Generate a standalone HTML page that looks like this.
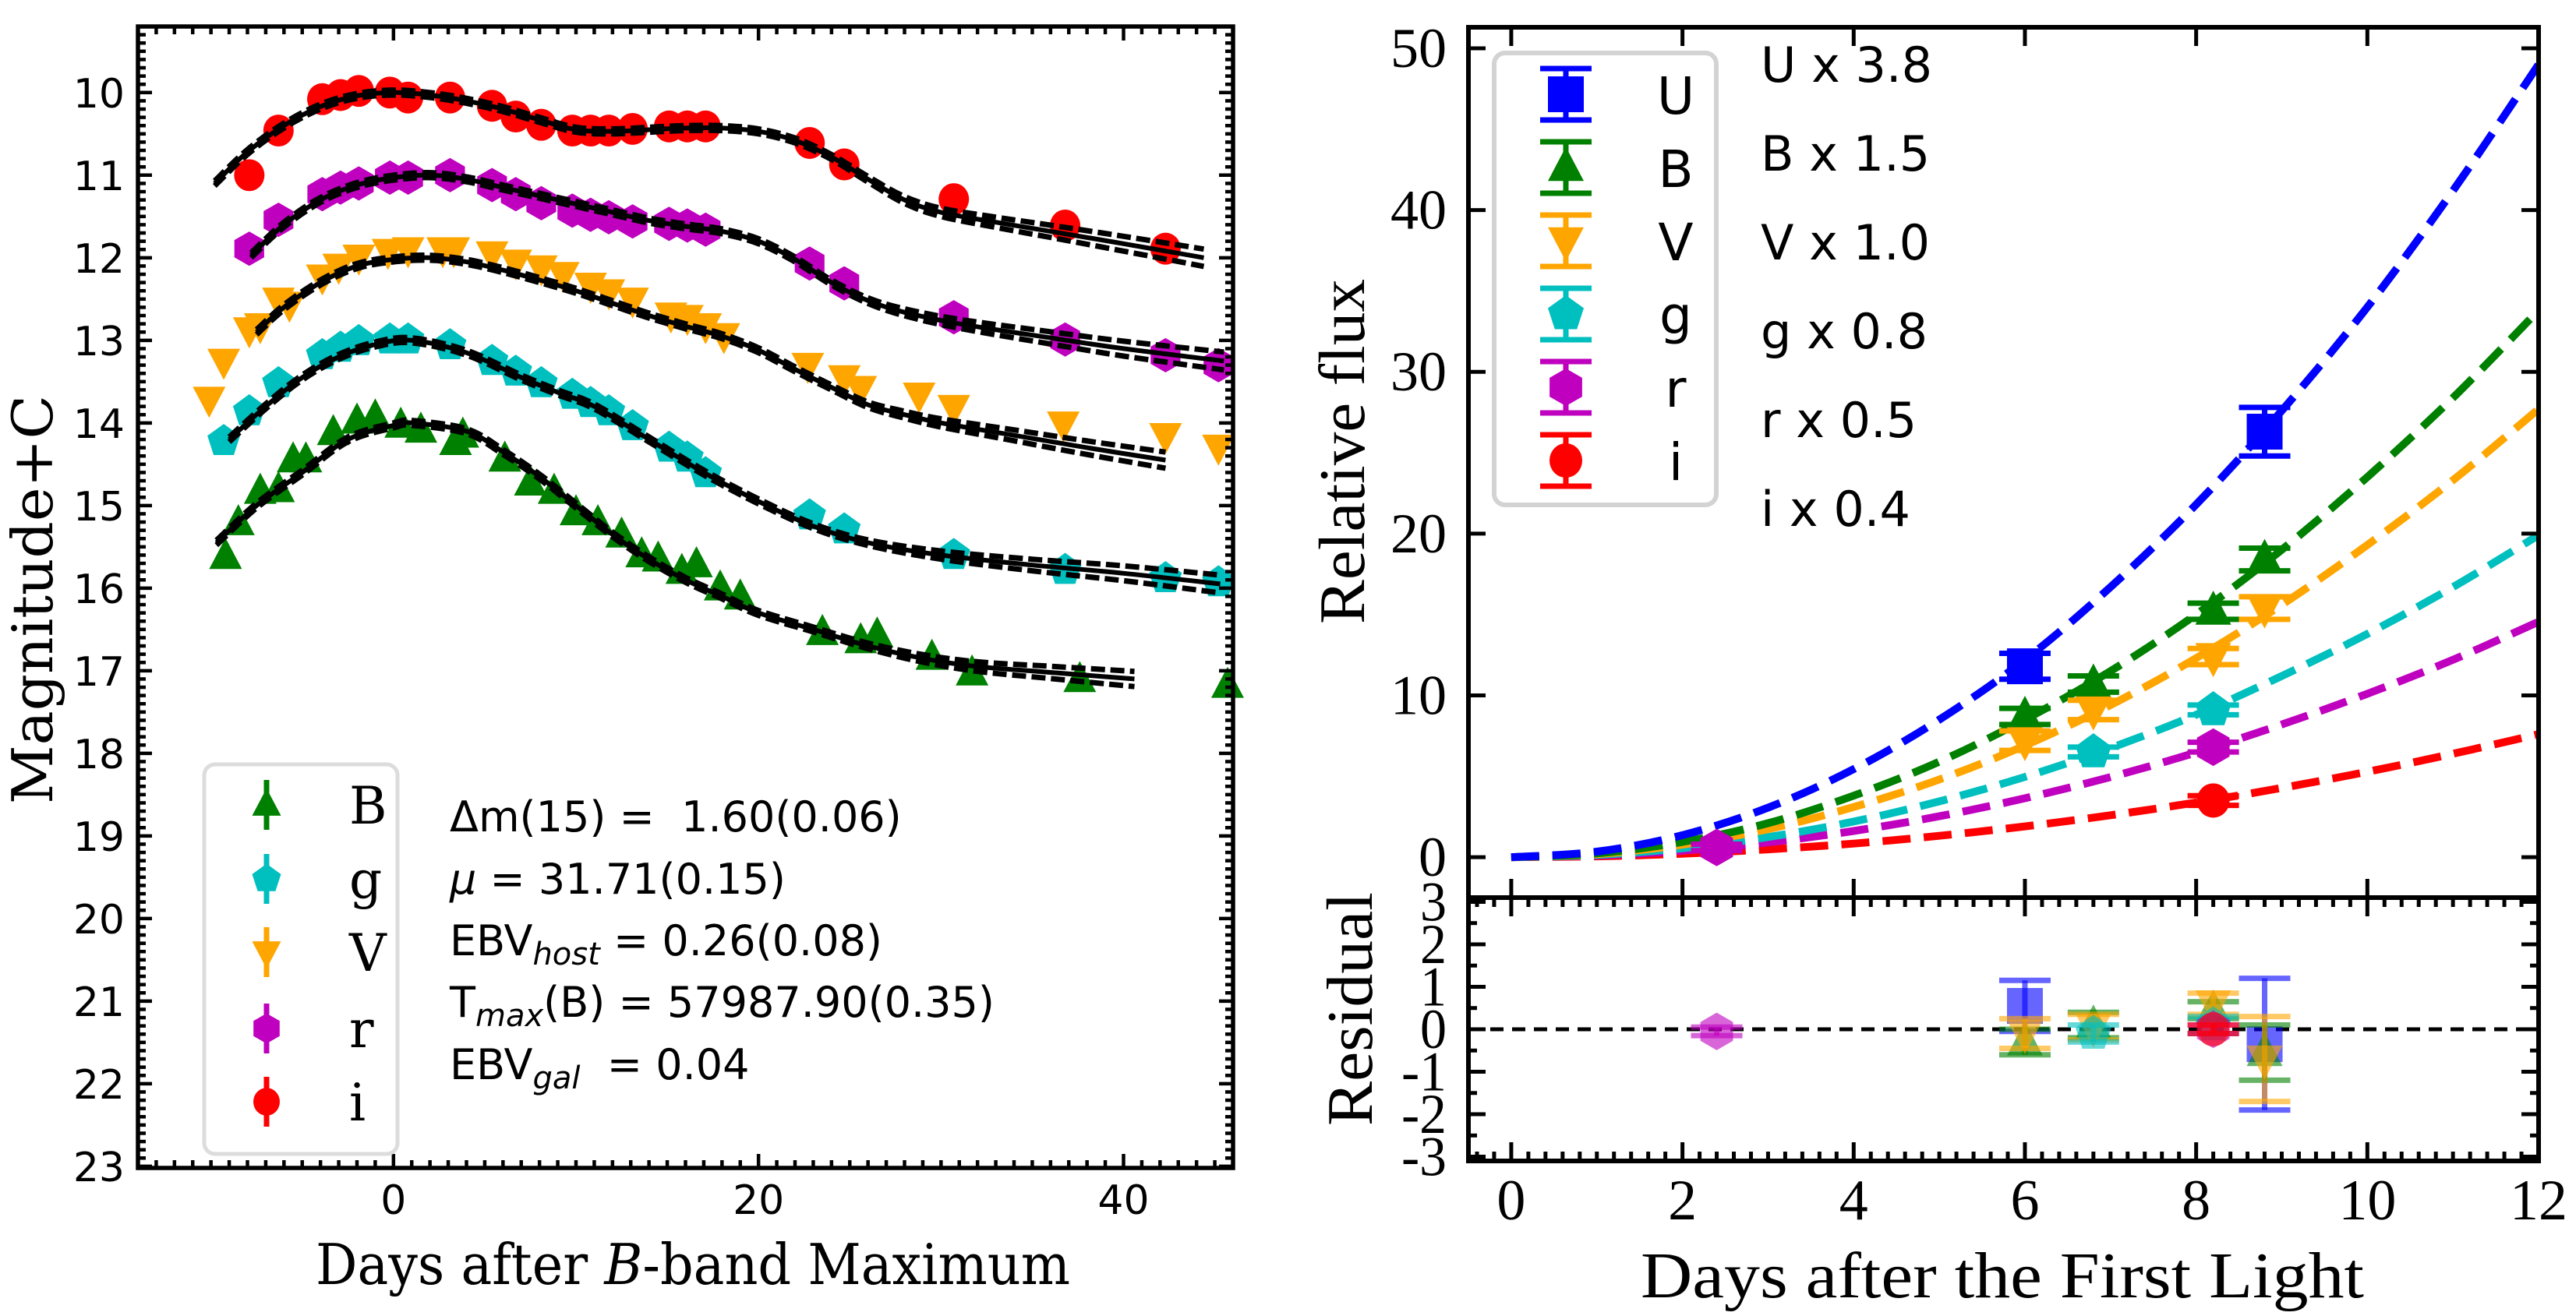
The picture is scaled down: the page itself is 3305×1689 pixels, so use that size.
<!DOCTYPE html>
<html><head><meta charset="utf-8"><style>
html,body{margin:0;padding:0;background:#fff;}
svg{display:block;}
</style></head><body>
<svg id="fig" xmlns="http://www.w3.org/2000/svg" width="3305" height="1689" viewBox="0 0 3305 1689">
<rect x="0" y="0" width="3305" height="1689" fill="#fff"/>
<g id="left"></g>
<g id="right"></g>
<g id="resid"></g>
</svg>
<script>
// ---------- LEFT PANEL DATA ----------
const iDays=[-7.9,-6.3,-3.9,-2.9,-1.9,-0.2,0.8,3.1,5.4,6.7,8.1,9.8,10.8,11.8,13.1,15.1,16.1,17.1,22.8,24.7,30.7,36.8,42.3];
const iMags=[11.0,10.46,10.08,10.03,9.98,10.0,10.06,10.06,10.16,10.29,10.39,10.46,10.46,10.46,10.44,10.41,10.41,10.41,10.61,10.87,11.29,11.61,11.89];
const rDays=[-7.9,-6.3,-3.9,-2.9,-1.9,-0.2,0.8,3.1,5.4,6.7,8.1,9.8,10.8,11.8,13.1,15.1,16.1,17.1,22.8,24.7,30.7,36.8,42.3,45.2];
const rMags=[11.89,11.54,11.23,11.15,11.1,11.03,11.03,11.0,11.12,11.23,11.34,11.43,11.48,11.51,11.56,11.59,11.61,11.66,12.07,12.31,12.72,12.99,13.18,13.3];
const vDays=[-10.1,-9.3,-7.9,-7.3,-6.3,-5.7,-3.9,-3.0,-1.9,-0.3,0.8,2.7,3.3,5.4,6.7,8.1,9.3,10.8,11.8,13.1,15.2,16.1,17.1,18.1,22.7,24.7,25.6,28.8,30.7,36.7,42.3,45.2];
const vMags=[13.71,13.25,12.87,12.82,12.51,12.56,12.23,12.1,11.99,11.92,11.9,11.9,11.9,11.95,12.05,12.12,12.2,12.33,12.41,12.51,12.69,12.72,12.82,12.94,13.3,13.45,13.58,13.66,13.81,14.01,14.15,14.29];
const gDays=[-9.3,-7.9,-6.3,-3.9,-2.9,-1.9,-0.2,0.8,3.1,5.4,6.7,8.1,9.8,10.8,11.8,13.1,15.1,16.1,17.1,22.8,24.7,30.7,36.8,42.3,45.2];
const gMags=[14.22,13.86,13.52,13.18,13.09,13.01,12.99,12.99,13.06,13.25,13.38,13.52,13.66,13.76,13.86,14.04,14.3,14.42,14.61,15.12,15.29,15.6,15.78,15.88,15.93];
const bDays=[-9.2,-8.5,-7.3,-6.3,-5.5,-4.8,-3.3,-2.0,-1.0,0.4,1.5,3.4,3.8,6.1,7.5,8.8,10.0,11.2,12.5,13.6,14.5,15.8,16.6,17.9,19.0,23.5,25.6,26.5,29.5,31.7,37.6,45.7];
const bMags=[15.62,15.21,14.83,14.81,14.45,14.45,14.12,13.98,13.93,14.03,14.09,14.24,14.15,14.44,14.73,14.83,15.09,15.21,15.36,15.6,15.65,15.8,15.72,16.0,16.11,16.54,16.64,16.57,16.84,17.03,17.11,17.18];
// model fit knots
const iModelDays=[-9.8,-8,-6,-4,-2,0,2,4,6,8,10,12,14,16,18,20,22,24,26,28,30,33,36,40,44.4];
const iModelMags=[11.1,10.72,10.4,10.17,10.04,10.0,10.03,10.1,10.2,10.33,10.45,10.47,10.45,10.43,10.43,10.47,10.58,10.78,11.05,11.3,11.45,11.57,11.68,11.83,12.0];
const rModelDays=[-7.8,-6,-4,-2,0,2,4,6,8,10,12,14,16,18,20,22,24,26,28,31,36,40,45.5];
const rModelMags=[11.97,11.6,11.3,11.12,11.03,11.0,11.05,11.15,11.25,11.35,11.45,11.55,11.62,11.68,11.8,12.02,12.3,12.52,12.66,12.8,12.97,13.1,13.25];
const vModelDays=[-7.5,-6,-4,-2,0,2,4,6,8,10,12,14,16,18,20,22,24,26,28,30,34,38,42.3];
const vModelMags=[12.9,12.6,12.3,12.1,12.02,12.0,12.05,12.15,12.27,12.4,12.55,12.7,12.83,12.95,13.12,13.35,13.57,13.78,13.9,14.0,14.15,14.3,14.45];
const gModelDays=[-9.0,-7,-5,-3,-1,1,4,7,9,11,14,17,20,23,26,30,35,40,45.3];
const gModelMags=[14.2,13.8,13.45,13.2,13.05,13.0,13.15,13.45,13.63,13.8,14.2,14.6,14.95,15.25,15.45,15.6,15.72,15.82,15.95];
const bModelDays=[-9.7,-7.5,-5,-2.5,0,1,4,6,8,10,12,14,16,18,20,23,26,29,32,36,40.6];
const bModelMags=[15.45,15.0,14.6,14.2,14.03,14.0,14.1,14.35,14.65,15.0,15.35,15.65,15.9,16.1,16.3,16.5,16.7,16.85,16.95,17.02,17.1];
const envelopeDays=[-12,25,30,35,40,46];
const envelopeHalf=[0.03,0.03,0.05,0.07,0.09,0.11];
const leftXTicks=[0,20,40];
const leftYTicks=[10,11,12,13,14,15,16,17,18,19,20,21,22,23];

// ---------- RIGHT PANEL DATA ----------
const fitT=[0,1,2,3,4,5,6,7,8,9,10,11,12];
const fitU=[0,0.34,1.36,3.06,5.44,8.5,12.2,16.7,21.8,27.6,34,41.2,49];
const fitB=[0,0.23,0.94,2.1,3.8,5.9,8.5,11.5,15,19,23.5,28.4,33.8];
const fitV=[0,0.19,0.77,1.73,3.1,4.8,6.9,9.4,12.3,15.6,19.3,23.3,27.7];
const fitG=[0,0.14,0.55,1.24,2.2,3.45,4.96,6.75,8.8,11.2,13.8,16.7,19.9];
const fitR=[0,0.1,0.4,0.91,1.62,2.53,3.64,4.95,6.47,8.2,10.1,12.2,14.55];
const fitI=[0,0.05,0.21,0.48,0.84,1.32,1.9,2.59,3.38,4.28,5.28,6.39,7.6];
const uT=[6.0,8.8], uF=[11.8,26.3], uE=[0.8,1.5], uRes=[0.55,-0.35], uResE=[0.6,1.55];
const bT=[6.0,6.8,8.2,8.8], bF=[8.7,10.7,15.2,18.4], bE=[0.5,0.5,0.5,0.7], bRes=[-0.3,0.1,0.45,-0.55], bResE=[0.3,0.3,0.2,0.65];
const vT=[6.0,6.8,8.2,8.8], vF=[7.2,9.1,12.4,15.4], vE=[0.6,0.6,0.5,0.7], vRes=[-0.1,0.05,0.6,-0.7], vResE=[0.35,0.3,0.25,1.0];
const gT=[6.8,8.2], gF=[6.5,9.1], gE=[0.3,0.3], gRes=[-0.1,0.1], gResE=[0.2,0.2];
const rT=[2.4,8.2], rF=[0.6,6.8], rE=[0.2,0.3], rRes=[-0.05,0.0], rResE=[0.1,0.1];
const iT=[8.2], iF=[3.5], iE=[0.3], iRes=[0.0], iResE=[0.1];
const rightXTicks=[0,2,4,6,8,10,12];
const rightYTicks=[0,10,20,30,40,50];
const residTicks=[-3,-2,-1,0,1,2,3];

const NS='http://www.w3.org/2000/svg';
function mk(tag,attrs,parent){const e=document.createElementNS(NS,tag);for(const k in attrs)e.setAttribute(k,attrs[k]);parent.appendChild(e);return e;}
const COL={U:'#0000ff',B:'#008000',V:'#ffa500',g:'#00bfbf',r:'#bf00bf',i:'#ff0000'};

function markerPath(shape,x,y,s){
  const h=s/2;
  if(shape==='s')return `M${x-h},${y-h}H${x+h}V${y+h}H${x-h}Z`;
  if(shape==='^')return `M${x},${y-h*1.15}L${x+h},${y+h*0.75}L${x-h},${y+h*0.75}Z`;
  if(shape==='v')return `M${x},${y+h*1.15}L${x+h},${y-h*0.75}L${x-h},${y-h*0.75}Z`;
  let n=shape==='p'?5:6,pts=[];
  for(let k=0;k<n;k++){const a=-Math.PI/2+k*2*Math.PI/n;pts.push((x+h*1.05*Math.cos(a)).toFixed(1)+','+(y+h*1.05*Math.sin(a)).toFixed(1));}
  return 'M'+pts.join('L')+'Z';
}
function drawMarker(parent,shape,x,y,s,color,opacity){
  if(shape==='o'){return mk('ellipse',{cx:x,cy:y,rx:s/2,ry:s/2*1.05,fill:color,'fill-opacity':opacity},parent);}
  return mk('path',{d:markerPath(shape,x,y,s),fill:color,'fill-opacity':opacity},parent);
}
function smoothPath(pts){
  let d=`M${pts[0][0].toFixed(1)},${pts[0][1].toFixed(1)}`;
  for(let k=0;k<pts.length-1;k++){
    const p0=pts[Math.max(0,k-1)],p1=pts[k],p2=pts[k+1],p3=pts[Math.min(pts.length-1,k+2)];
    const c1=[p1[0]+(p2[0]-p0[0])/6,p1[1]+(p2[1]-p0[1])/6],c2=[p2[0]-(p3[0]-p1[0])/6,p2[1]-(p3[1]-p1[1])/6];
    d+=`C${c1[0].toFixed(1)},${c1[1].toFixed(1)} ${c2[0].toFixed(1)},${c2[1].toFixed(1)} ${p2[0].toFixed(1)},${p2[1].toFixed(1)}`;
  }
  return d;
}
function interp(xs,ys,x){if(x<=xs[0])return ys[0];for(let k=0;k<xs.length-1;k++){if(x<=xs[k+1]){const t=(x-xs[k])/(xs[k+1]-xs[k]);return ys[k]+t*(ys[k+1]-ys[k]);}}return ys[ys.length-1];}

// ================= LEFT PANEL =================
const L=document.getElementById('left');
const LX0=177,LX1=1582,LY0=34,LY1=1499;
const lxMin=-14,lxMax=46,lyTop=9.2,lyBot=23.02;
const lx=d=>LX0+(d-lxMin)/(lxMax-lxMin)*(LX1-LX0);
const ly=m=>LY0+(m-lyTop)/(lyBot-lyTop)*(LY1-LY0);

const fits=[[iModelDays,iModelMags,'i'],[rModelDays,rModelMags,'r'],[vModelDays,vModelMags,'V'],[gModelDays,gModelMags,'g'],[bModelDays,bModelMags,'B']];
const sets=[[iDays,iMags,'o','i'],[rDays,rMags,'h','r'],[vDays,vMags,'v','V'],[gDays,gMags,'p','g'],[bDays,bMags,'^','B']];
sets.forEach(([ds,ms,sh,band])=>{
  const g=mk('g',{},L);
  
  
  ds.forEach((d,k)=>{const m=drawMarker(g,sh,lx(d),ly(ms[k]),sh==='o'?39:42,COL[band],1);
    
    });
});
fits.forEach(([ds,ms,band])=>{
  const g=mk('g',{},L);
  
  
  [-1,1].forEach(sgn=>{
    const pts=ds.map((d,k)=>[lx(d),ly(ms[k]+sgn*interp(envelopeDays,envelopeHalf,d))]);
    const p=mk('path',{d:smoothPath(pts),fill:'none',stroke:'#000','stroke-width':7,'stroke-dasharray':'18 7'},g);
    
    
  });
  const p=mk('path',{d:smoothPath(ds.map((d,k)=>[lx(d),ly(ms[k])])),fill:'none',stroke:'#000','stroke-width':6},g);
  
  
});
// frame & ticks
(function(){
  const g=mk('g',{stroke:'#000','stroke-width':4.5},L);
  
  
  for(let d=-14;d<=46;d++){const x=lx(d),len=leftXTicks.includes(d)?18:10;
    mk('line',{x1:x,y1:LY1,x2:x,y2:LY1-len},g);mk('line',{x1:x,y1:LY0,x2:x,y2:LY0+len},g);}
  for(let m=92;m<=230;m++){const y=ly(m/10),len=(m%10===0)?18:10;
    mk('line',{x1:LX0,y1:y,x2:LX0+len,y2:y},g);mk('line',{x1:LX1,y1:y,x2:LX1-len,y2:y},g);}
  mk('rect',{x:LX0,y:LY0,width:LX1-LX0,height:LY1-LY0,fill:'none','stroke-width':5.5},g);
})();
leftXTicks.forEach(v=>{const t=mk('text',{x:lx(v),y:1558,'font-family':'DejaVu Sans, sans-serif','font-size':52,'text-anchor':'middle'},L);t.textContent=v;
  });
leftYTicks.forEach(v=>{const t=mk('text',{x:160,y:ly(v)+19,'font-family':'DejaVu Sans, sans-serif','font-size':52,'text-anchor':'end'},L);t.textContent=v;
  });
(function(){
  let t=mk('text',{x:405,y:1648,'font-family':'DejaVu Serif, serif','font-size':72,textLength:968,lengthAdjust:'spacingAndGlyphs'},L);
  t.innerHTML='Days after <tspan font-style="italic">B</tspan>-band Maximum';
  
  t=mk('text',{x:0,y:0,'font-family':'DejaVu Serif, serif','font-size':72,textLength:525,lengthAdjust:'spacingAndGlyphs',transform:'translate(67,1032) rotate(-90)'},L);
  t.textContent='Magnitude+C';
  
})();
// left legend
(function(){
  const g=mk('g',{},L);
  
  mk('rect',{x:262,y:981,width:248,height:500,rx:14,fill:'#fff','fill-opacity':0.8,stroke:'#dcdcdc','stroke-width':5},g);
  const entries=[['^','B',1033],['p','g',1128],['v','V',1222],['h','r',1320],['o','i',1414]];
  entries.forEach(([sh,lab,y])=>{
    const e=mk('g',{},g);
    
    mk('line',{x1:342,y1:y-32,x2:342,y2:y+32,stroke:COL[lab],'stroke-width':7},e);
    drawMarker(e,sh,342,y,sh==='o'?34:37,COL[lab],1);
    const t=mk('text',{x:448,y:y+24,'font-family':'DejaVu Serif, serif','font-size':66},e);t.textContent=lab;
  });
  const ann=mk('g',{'font-family':'DejaVu Sans, sans-serif','font-size':54},L);
  
  const lines=['Δm(15) =  1.60(0.06)','<tspan font-style="italic">μ</tspan> = 31.71(0.15)','EBV<tspan font-style="italic" font-size="40" dy="12">host</tspan><tspan dy="-12"> = 0.26(0.08)</tspan>','T<tspan font-style="italic" font-size="40" dy="12">max</tspan><tspan dy="-12">(B) = 57987.90(0.35)</tspan>','EBV<tspan font-style="italic" font-size="40" dy="12">gal</tspan><tspan dy="-12">  = 0.04</tspan>'];
  const ys=[1067,1147,1226,1305,1385];
  lines.forEach((s,k)=>{const t=mk('text',{x:577,y:ys[k]},ann);t.innerHTML=s;t.setAttribute('xml:space','preserve');t.style.whiteSpace='pre';});
})();

// ================= RIGHT TOP PANEL =================
const R=document.getElementById('right');
const RX0=1884,RX1=3257,RY0=35,RY1=1152;
const rxMin=-0.5,rxMax=12,ryMin=-2.5,ryMax=51.3;
const rx=t=>RX0+(t-rxMin)/(rxMax-rxMin)*(RX1-RX0);
const ry=f=>RY1-(f-ryMin)/(ryMax-ryMin)*(RY1-RY0);
const clip=mk('clipPath',{id:'rclip'},R);mk('rect',{x:RX0,y:RY0,width:RX1-RX0,height:RY1-RY0},clip);
const fitSets=[['i',fitI],['r',fitR],['g',fitG],['V',fitV],['B',fitB],['U',fitU]];
const cg=mk('g',{'clip-path':'url(#rclip)'},R);
fitSets.forEach(([b,arr])=>{
  const p=mk('path',{d:smoothPath(fitT.map((t,k)=>[rx(t),ry(arr[k])])),fill:'none',stroke:COL[b],'stroke-width':10,'stroke-dasharray':'36 17'},cg);
  
  
});
const ptSets=[['U','s',uT,uF,uE,uRes,uResE],['B','^',bT,bF,bE,bRes,bResE],['V','v',vT,vF,vE,vRes,vResE],['g','p',gT,gF,gE,gRes,gResE],['r','h',rT,rF,rE,rRes,rResE],['i','o',iT,iF,iE,iRes,iResE]];
function errPoint(parent,sh,col,x,y,ey0,ey1,op){
  mk('line',{x1:x,y1:ey0,x2:x,y2:ey1,stroke:col,'stroke-width':7,'stroke-opacity':op},parent);
  mk('line',{x1:x-33,y1:ey0,x2:x+33,y2:ey0,stroke:col,'stroke-width':7,'stroke-opacity':op},parent);
  mk('line',{x1:x-33,y1:ey1,x2:x+33,y2:ey1,stroke:col,'stroke-width':7,'stroke-opacity':op},parent);
  drawMarker(parent,sh,x,y,sh==='o'?42:46,col,op);
}
ptSets.forEach(([b,sh,ts,fs,es])=>{
  const g=mk('g',{},R);
  
  ts.forEach((t,k)=>errPoint(g,sh,COL[b],rx(t),ry(fs[k]),ry(fs[k]+es[k]),ry(fs[k]-es[k]),1));
});
(function(){
  const g=mk('g',{stroke:'#000','stroke-width':5},R);
  
  rightXTicks.forEach(v=>{const x=rx(v);mk('line',{x1:x,y1:RY0,x2:x,y2:RY0+24},g);mk('line',{x1:x,y1:RY1,x2:x,y2:RY1-24},g);});
  rightYTicks.forEach(v=>{const y=ry(v);mk('line',{x1:RX0,y1:y,x2:RX0+22,y2:y},g);mk('line',{x1:RX1,y1:y,x2:RX1-22,y2:y},g);});
  mk('rect',{x:RX0,y:RY0,width:RX1-RX0,height:RY1-RY0,fill:'none','stroke-width':6},g);
})();
rightYTicks.forEach(v=>{const t=mk('text',{x:1856,y:ry(v)+24,'font-family':'Liberation Serif, serif','font-size':72,'text-anchor':'end'},R);t.textContent=v;
  });
(function(){
  const t=mk('text',{x:0,y:0,'font-family':'Liberation Serif, serif','font-size':84,textLength:443,lengthAdjust:'spacingAndGlyphs',transform:'translate(1750,801) rotate(-90)'},R);
  t.textContent='Relative flux';
  const g=mk('g',{},R);
  mk('rect',{x:1917,y:68,width:285,height:580,rx:14,fill:'#fff',stroke:'#d3d3d3','stroke-width':6},g);
  const ent=[['U','s'],['B','^'],['V','v'],['g','p'],['r','h'],['i','o']];
  ent.forEach(([b,sh],k)=>{const y=121+k*94;
    const e=mk('g',{},g);
    errPoint(e,sh,COL[b],2009,y,y-33,y+33,1);
    const t=mk('text',{x:2150,y:y+25,'font-family':'DejaVu Sans, sans-serif','font-size':66,'text-anchor':'middle'},e);t.textContent=b;});
  const sc=['U x 3.8','B x 1.5','V x 1.0','g x 0.8','r x 0.5','i x 0.4'];
  const sg=mk('g',{'font-family':'DejaVu Sans, sans-serif','font-size':62},R);
  sc.forEach((s,k)=>{const t=mk('text',{x:2259,y:105+k*114},sg);t.textContent=s;});
})();

// ================= RESIDUAL PANEL =================
const S=document.getElementById('resid');
const SY0=1152,SY1=1490,syMin=-3.1,syMax=3.1;
const sy=v=>SY1-(v-syMin)/(syMax-syMin)*(SY1-SY0);
(function(){const l=mk('line',{x1:RX0,y1:sy(0),x2:RX1,y2:sy(0),stroke:'#000','stroke-width':5,'stroke-dasharray':'17 11'},S);
  })();
ptSets.forEach(([b,sh,ts,fs,es,rs,res])=>{
  const g=mk('g',{},S);
  
  ts.forEach((t,k)=>errPoint(g,sh,COL[b],rx(t),sy(rs[k]),sy(rs[k]+res[k]),sy(rs[k]-res[k]),0.6));
});
(function(){
  const g=mk('g',{stroke:'#000','stroke-width':5},S);
  
  for(let k=-2;k<=60;k++){const v=k/5,x=rx(v);if(x<RX0||x>RX1)continue;const len=(k%10===0)?24:12;
    mk('line',{x1:x,y1:SY1,x2:x,y2:SY1-len},g);mk('line',{x1:x,y1:SY0,x2:x,y2:SY0+len},g);}
  for(let k=-6;k<=6;k++){const y=sy(k/2),len=(k%2===0)?22:11;
    mk('line',{x1:RX0,y1:y,x2:RX0+len,y2:y},g);mk('line',{x1:RX1,y1:y,x2:RX1-len,y2:y},g);}
  mk('rect',{x:RX0,y:SY0,width:RX1-RX0,height:SY1-SY0,fill:'none','stroke-width':6},g);
})();
residTicks.forEach(v=>{const t=mk('text',{x:1856,y:sy(v)+24,'font-family':'Liberation Serif, serif','font-size':72,'text-anchor':'end',textLength:v<0?58:34,lengthAdjust:'spacingAndGlyphs'},S);t.textContent=v;
  });
rightXTicks.forEach(v=>{const t=mk('text',{x:rx(v),y:1565,'font-family':'Liberation Serif, serif','font-size':74,'text-anchor':'middle'},S);t.textContent=v;
  });
(function(){
  let t=mk('text',{x:2105,y:1665,'font-family':'Liberation Serif, serif','font-size':84,textLength:928,lengthAdjust:'spacingAndGlyphs'},S);
  t.textContent='Days after the First Light';
  t=mk('text',{x:0,y:0,'font-family':'Liberation Serif, serif','font-size':84,textLength:300,lengthAdjust:'spacingAndGlyphs',transform:'translate(1760,1445) rotate(-90)'},S);
  t.textContent='Residual';
})();
</script>
</body></html>
